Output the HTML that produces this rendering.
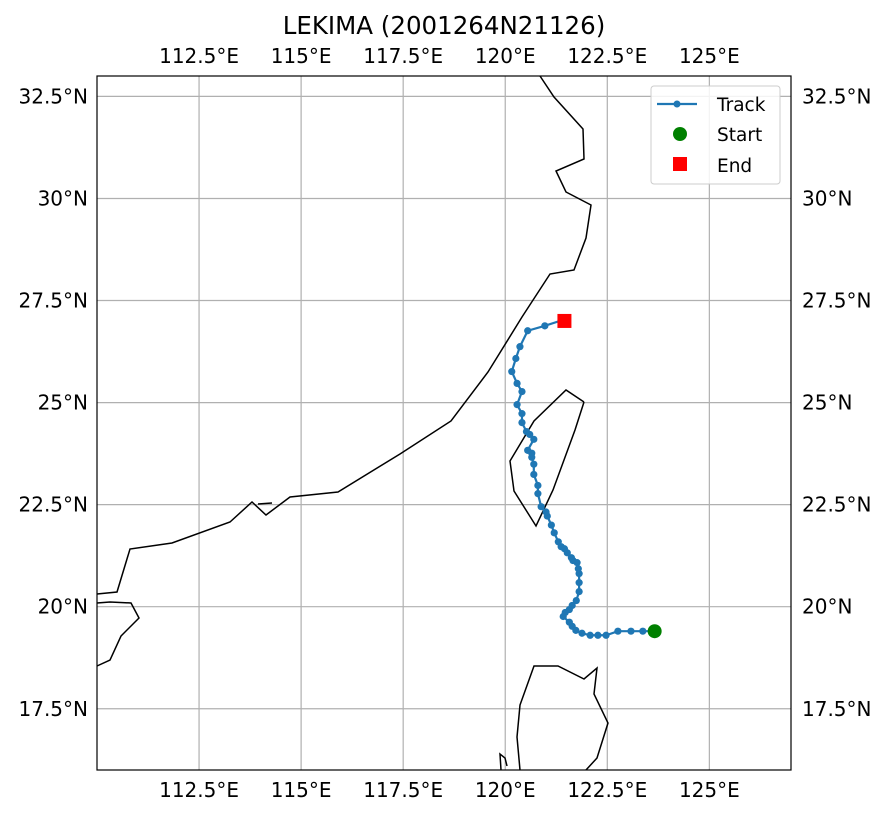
<!DOCTYPE html>
<html><head><meta charset="utf-8"><style>
body{margin:0;background:#fff}
svg text{font-family:"DejaVu Sans","Liberation Sans",sans-serif;fill:#000}
</style></head><body>
<svg id="chart" width="888" height="815" xmlns="http://www.w3.org/2000/svg">
<rect width="888" height="815" fill="#fff"/>
<text x="444" y="34" font-size="24.5" text-anchor="middle">LEKIMA (2001264N21126)</text>
<g id="grid"></g>
<g id="coast" fill="none" stroke="#000" stroke-width="1.5">
<polyline points="540,76 554,97 583,129 584,159 556,171 566,192 591,205 586,238 574,270 550,274 522,317 488,372 451,421 400,454 338,492 290,497 266,515 252,502 230,522 172,543 130,549 117,592 97,594"/>
<polyline points="97,603 110,602 131,603 139,618 121,636 110,660 97,666"/>
<polyline points="258,504 272,503"/>
<polyline points="584,402 566,390 534,421 510,461 514,491 536,526 553,490 575,430 584,402"/>
<polyline points="520,770 517,737 520,705 534,666 558,666 584,679 597,668 594,694 608,723 597,758 586,770"/>
<polyline points="501,770 500,754 505,758 507,766"/>
</g>
<g id="marks"></g>
<rect x="97" y="76" width="694" height="694" fill="none" stroke="#000" stroke-width="1.2"/>
<g>
<rect x="651" y="86" width="129" height="98" rx="3" fill="#fff" fill-opacity="0.85" stroke="#ccc"/>
<line x1="657" y1="104" x2="697" y2="104" stroke="#1f77b4" stroke-width="2.2"/>
<circle cx="677" cy="104" r="3.5" fill="#1f77b4"/>
<text x="717" y="111" font-size="18.5">Track</text>
<circle cx="680" cy="134" r="7" fill="green"/>
<text x="717" y="141" font-size="18.5">Start</text>
<rect x="673" y="157" width="14" height="14" fill="red"/>
<text x="717" y="172" font-size="18.5">End</text>
</g>
</svg>
<script>
const lonTicks=[112.5,115,117.5,120,122.5,125];
const latTicks=[17.5,20,22.5,25,27.5,30,32.5];
const trackLon=[123.66,123.37,123.08,122.76,122.47,122.27,122.08,121.88,121.73,121.64,121.57,121.42,121.47,121.57,121.64,121.74,121.81,121.81,121.81,121.79,121.76,121.66,121.62,121.52,121.45,121.37,121.30,121.20,121.13,121.03,121.00,120.88,120.80,120.80,120.70,120.70,120.65,120.65,120.55,120.70,120.60,120.52,120.41,120.41,120.29,120.41,120.29,120.16,120.26,120.36,120.55,120.97,121.4];
const trackLat=[19.40,19.40,19.40,19.40,19.30,19.30,19.30,19.35,19.42,19.52,19.62,19.76,19.86,19.93,20.03,20.15,20.37,20.59,20.81,20.93,21.08,21.13,21.20,21.32,21.42,21.47,21.59,21.81,22.00,22.22,22.32,22.45,22.77,22.97,23.24,23.49,23.66,23.76,23.83,24.10,24.22,24.29,24.51,24.73,24.95,25.27,25.47,25.76,26.08,26.37,26.76,26.88,27.02];
const endLon=121.45, endLat=27.0;
const xs=lon=>97+(lon-110)*694/17;
const ys=lat=>76+(33-lat)*694/17;
const NS="http://www.w3.org/2000/svg";
function mk(t,a,p){const e=document.createElementNS(NS,t);for(const k in a)e.setAttribute(k,a[k]);p.appendChild(e);return e;}
const svg=document.getElementById('chart');
const grid=document.getElementById('grid');
lonTicks.forEach(v=>{
 const x=xs(v);
 const l=mk('line',{x1:x,x2:x,y1:76,y2:770,stroke:'#b0b0b0','stroke-width':1.2},grid);
 
 
 ['top','bottom'].forEach(s=>{
  const t=mk('text',{x:x,y:s=='top'?63:797,'font-size':20,'text-anchor':'middle'},svg);
  t.textContent=v+'°E';
  
  
 });
});
latTicks.forEach(v=>{
 const y=ys(v);
 const l=mk('line',{x1:97,x2:791,y1:y,y2:y,stroke:'#b0b0b0','stroke-width':1.2},grid);
 
 
 const t1=mk('text',{x:88,y:y+7,'font-size':20,'text-anchor':'end'},svg);
 t1.textContent=v+'°N';
 
 
 const t2=mk('text',{x:802,y:y+7,'font-size':20,'text-anchor':'start'},svg);
 t2.textContent=v+'°N';
 
 
});
const marks=document.getElementById('marks');
const pts=trackLon.map((v,i)=>xs(v)+','+ys(trackLat[i])).join(' ');
const pl=mk('polyline',{points:pts,fill:'none',stroke:'#1f77b4','stroke-width':2.2},marks);


trackLon.forEach((v,i)=>{
 const c=mk('circle',{cx:xs(v),cy:ys(trackLat[i]),r:3.6,fill:'#1f77b4'},marks);
 
 
});
const st=mk('circle',{cx:xs(trackLon[0]),cy:ys(trackLat[0]),r:7,fill:'green'},marks);


const en=mk('rect',{x:xs(endLon)-7,y:ys(endLat)-7,width:14,height:14,fill:'red'},marks);


</script>
</body></html>
